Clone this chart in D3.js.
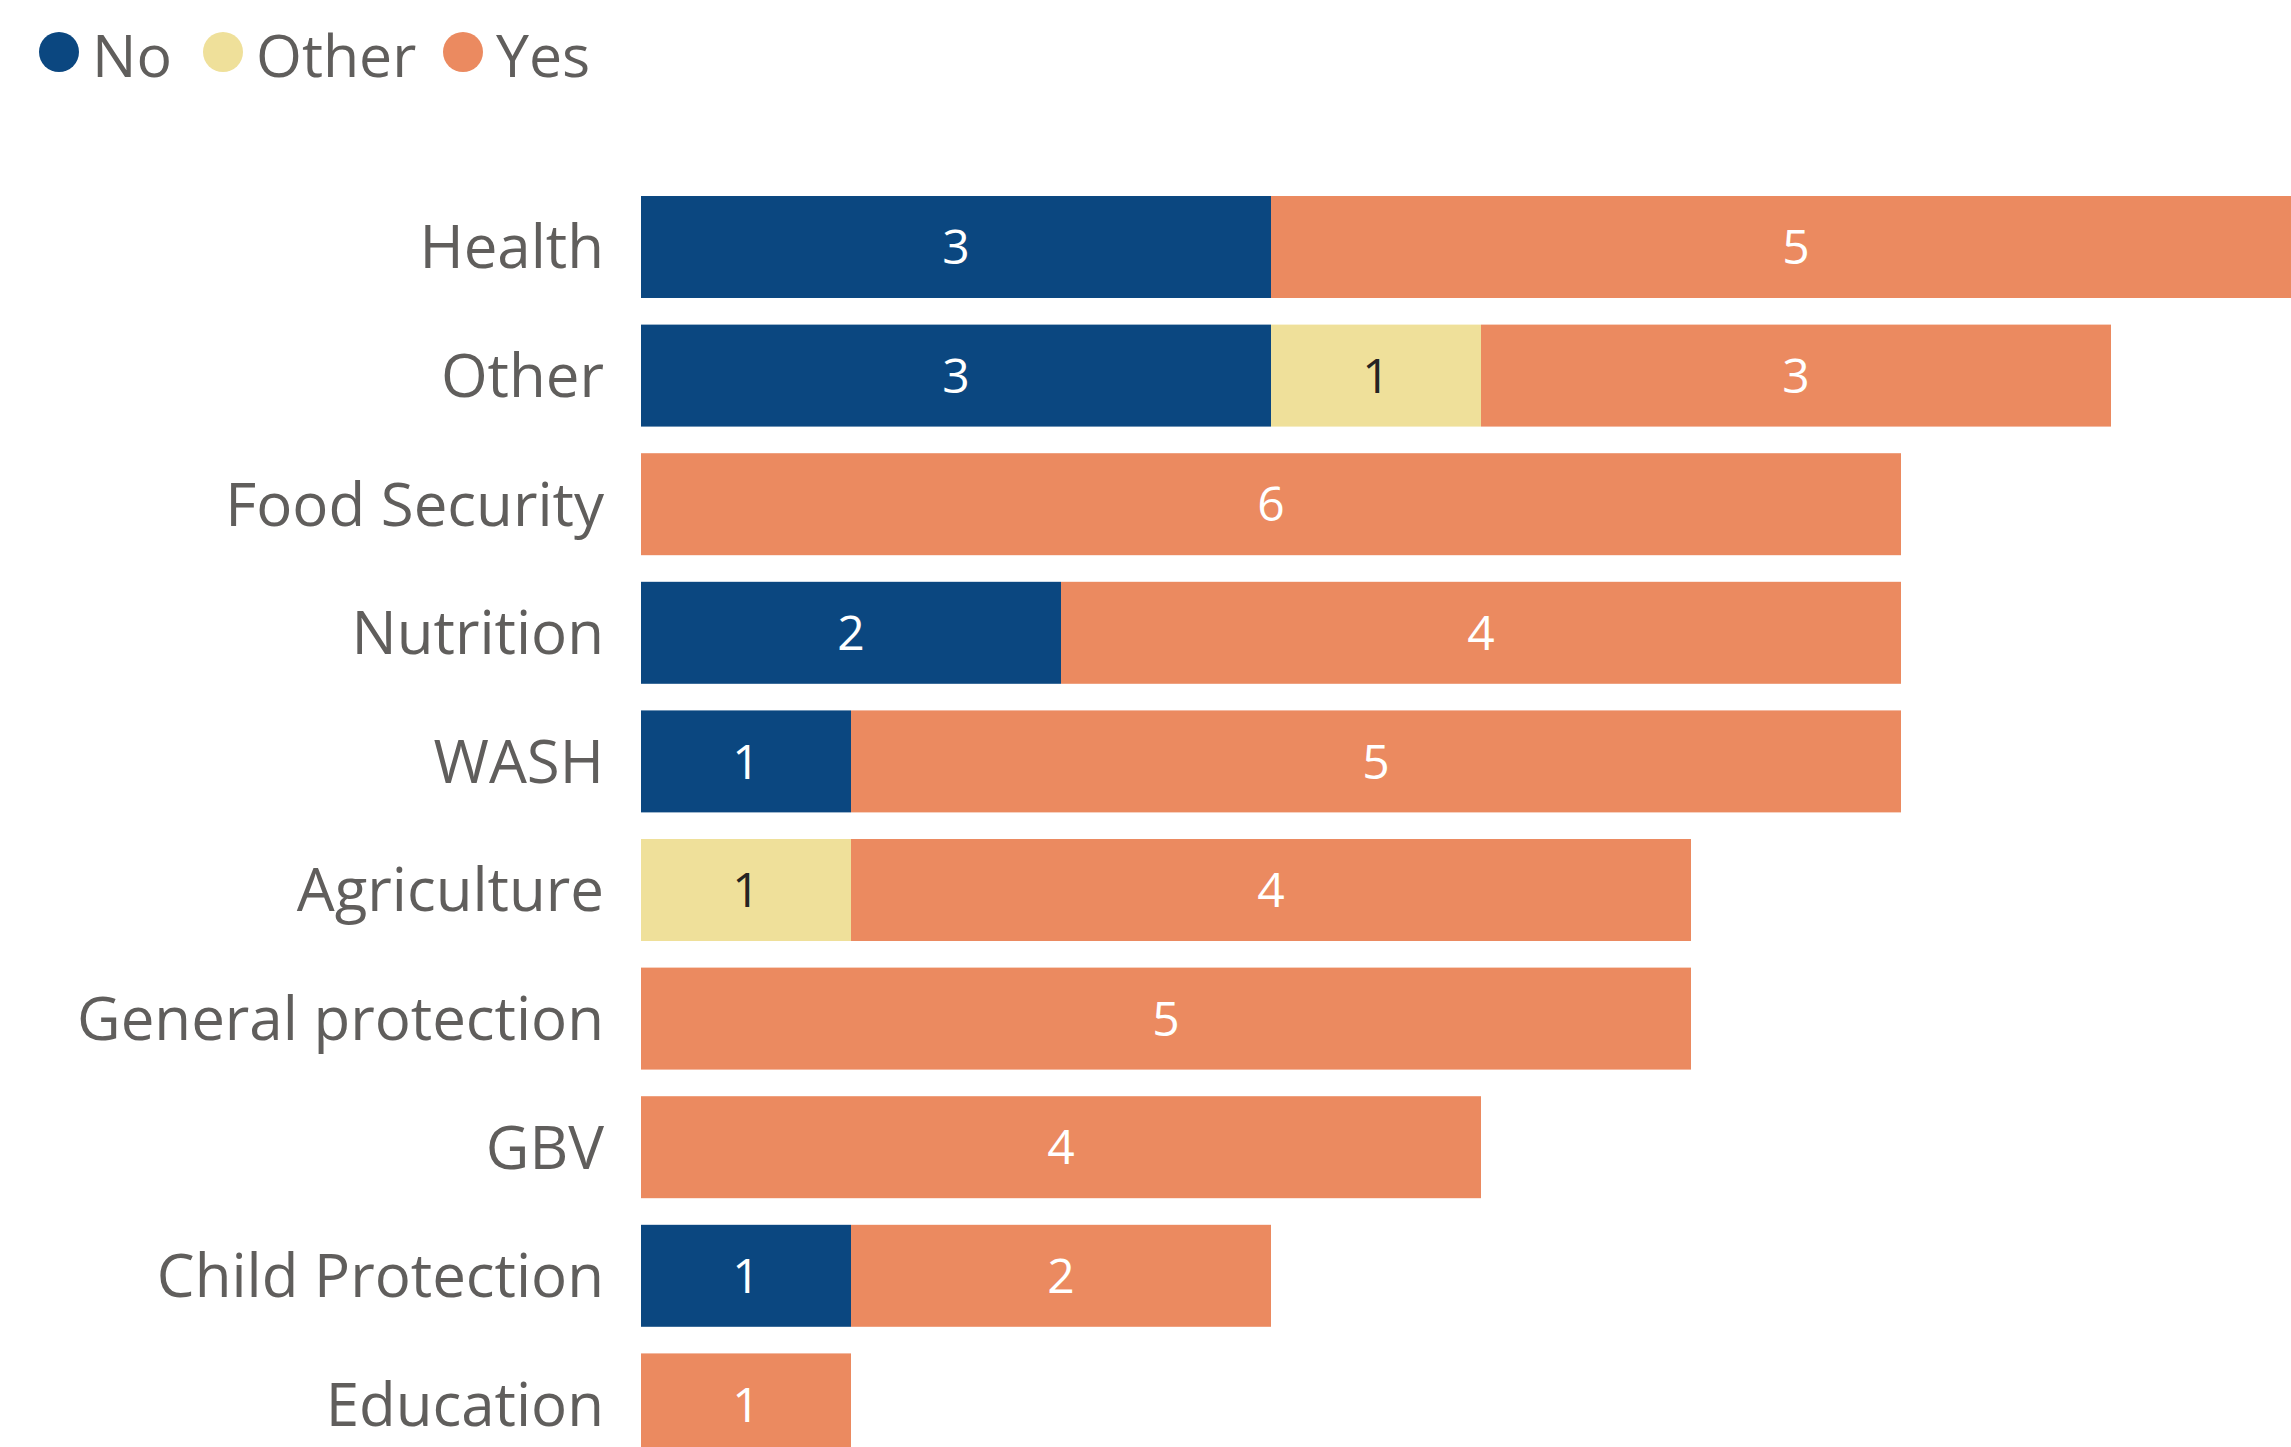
<!DOCTYPE html>
<html><head><meta charset="utf-8">
<script src="https://cdn.jsdelivr.net/npm/d3@7"></script>
<style>
html,body{margin:0;padding:0;background:#fff;overflow:hidden;}
svg{display:block;}
text{font-family:"Open Sans","Noto Sans",sans-serif;}
</style></head>
<body>
<svg id="chart" width="2291" height="1447"></svg>
<script>
const categories = ["Health","Other","Food Security","Nutrition","WASH","Agriculture","General protection","GBV","Child Protection","Education"];
const seriesNames = ["No","Other","Yes"];
const noValues    = [3,3,0,2,1,0,0,0,1,0];
const otherValues = [0,1,0,0,0,1,0,0,0,0];
const yesValues   = [5,3,6,4,5,4,5,4,2,1];
const colors = ["#0B4780","#EFE09A","#EB8A60"];
const labelColors = ["#FFFFFF","#252423","#FFFFFF"];

const svg = d3.select("#chart");

const rows = categories.map((c,i)=>({cat:c, No:noValues[i], Other:otherValues[i], Yes:yesValues[i]}));
const stack = d3.stack().keys(seriesNames)(rows);

const x = d3.scaleLinear().domain([0,8]).range([641,2321]);
const y = d3.scaleBand().domain(categories).range([182.7,1468.7]).paddingInner(0.207).paddingOuter(0.1035);
const color = d3.scaleOrdinal().domain(seriesNames).range(colors);
const lcolor = d3.scaleOrdinal().domain(seriesNames).range(labelColors);

// category labels
svg.append("g").selectAll("text").data(categories).join("text")
  .attr("x", 604)
  .attr("y", d => y(d) + y.bandwidth()/2)
  .attr("dy", "0.355em")
  .attr("text-anchor","end")
  .attr("fill","#605E5C")
  .attr("font-size", 60)
  .text(d=>d);

// bars
const layers = svg.append("g").selectAll("g").data(stack).join("g")
  .attr("fill", d => color(d.key));
layers.selectAll("rect").data(d => d.map(p => ({p, key:d.key}))).join("rect")
  .filter(d => d.p[1] - d.p[0] > 0)
  .attr("x", d => x(d.p[0]))
  .attr("y", d => y(d.p.data.cat))
  .attr("width", d => x(d.p[1]) - x(d.p[0]))
  .attr("height", y.bandwidth());

// value labels
const vl = svg.append("g");
stack.forEach(layer => {
  layer.forEach(p => {
    const v = p[1]-p[0];
    if (v > 0) {
      vl.append("text")
        .attr("x", (x(p[0]) + x(p[1]))/2)
        .attr("y", y(p.data.cat) + y.bandwidth()/2)
        .attr("dy","0.36em")
        .attr("text-anchor","middle")
        .attr("fill", lcolor(layer.key))
        .attr("font-size", 48)
        .text(v);
    }
  });
});

// legend
const legendX = [59, 223, 463];
const lg = svg.append("g");
seriesNames.forEach((s,i)=>{
  lg.append("circle").attr("cx", legendX[i]).attr("cy", 52).attr("r", 20).attr("fill", color(s));
  lg.append("text").attr("x", legendX[i]+33).attr("y", 77)
    .attr("fill","#605E5C").attr("font-size", 59).text(s);
});
</script>
</body></html>
